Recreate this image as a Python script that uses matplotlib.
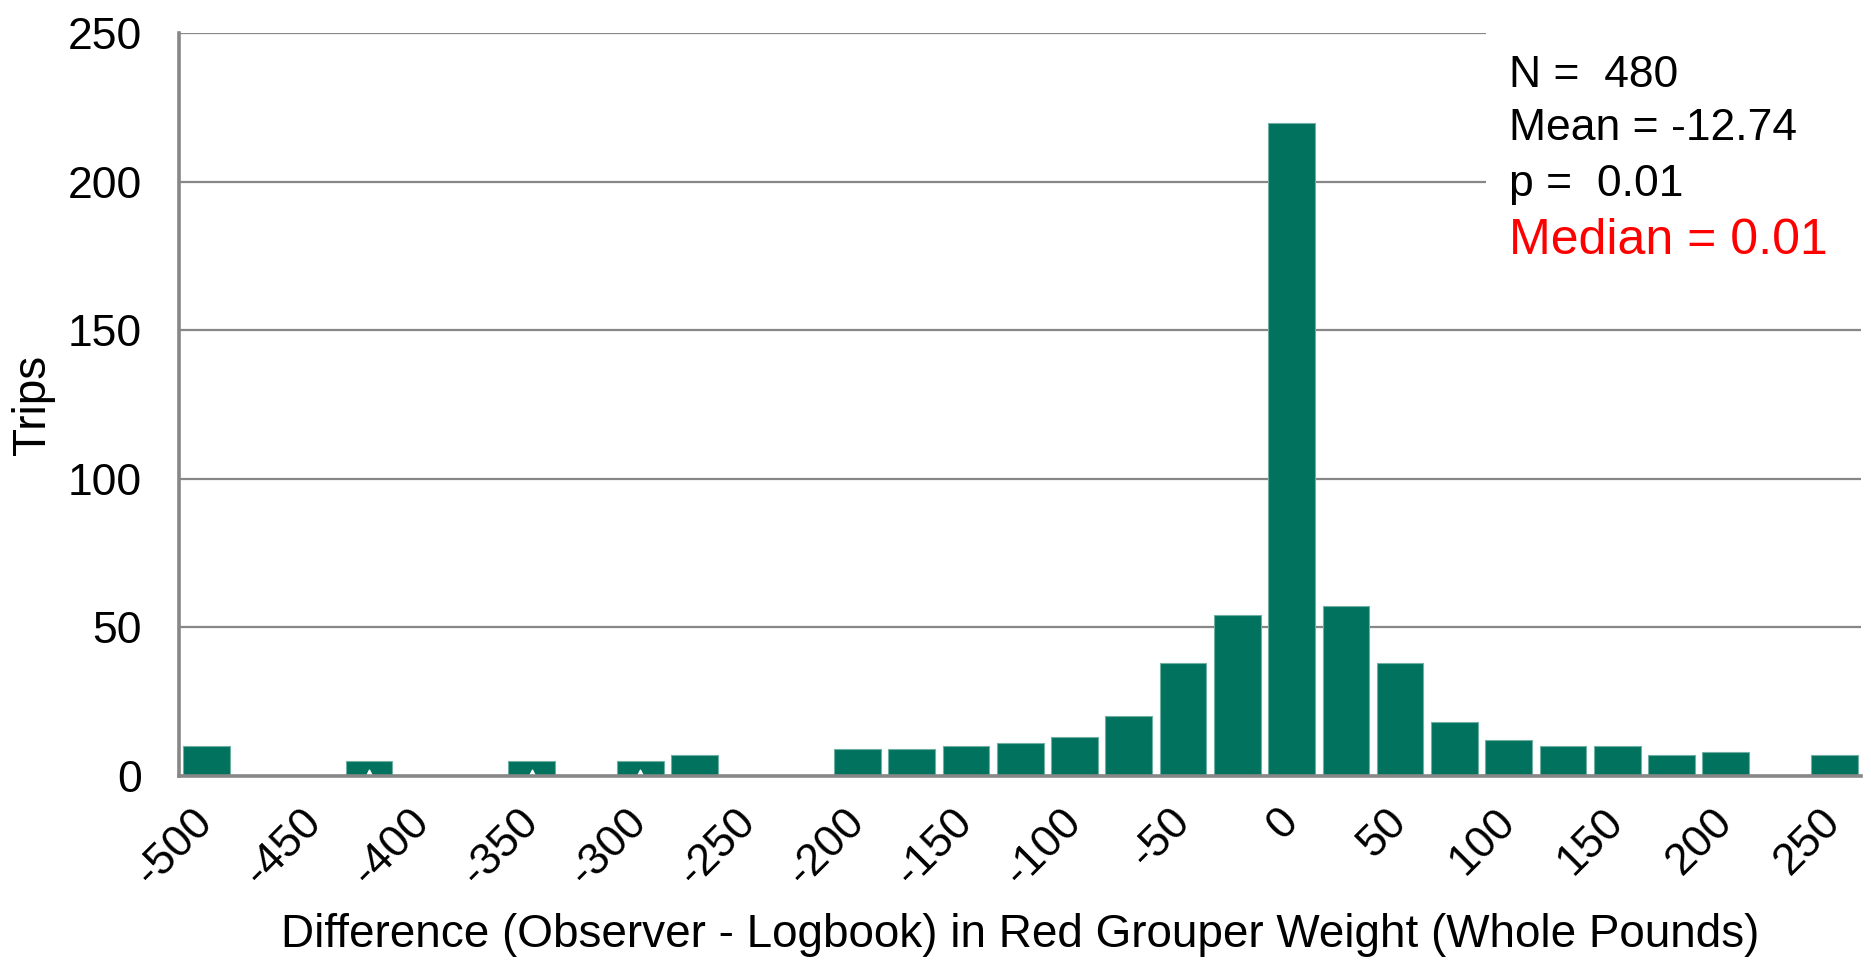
import matplotlib
matplotlib.use("Agg")
import matplotlib.pyplot as plt
from matplotlib.patches import Rectangle
import numpy as np

plt.rcParams["font.family"] = ["Liberation Sans", "DejaVu Sans"]

# difference bins (lbs), every 25
bins = list(range(-500, 251, 25))
trips = [10, 0, 0, 5, 0, 0, 5, 0, 5, 7, 0, 0, 9, 9, 10, 11, 13, 20, 38, 54,
         220, 57, 38, 18, 12, 10, 10, 7, 8, 0, 7]
tick_labels = [str(b) for b in bins[::2]]
marked_bins = [-425, -350, -300]   # small white markers at bar foot
stats_lines = ["N =  480", "Mean = -12.74", "p =  0.01"]
median_line = "Median = 0.01"

BAR = "#00725e"
GRID = "#878787"

fig = plt.figure(figsize=(18.71, 9.64), dpi=100)
ax = fig.add_axes([0.0957, 0.1955, 0.8992, 0.7698])

x = np.arange(len(bins))
ax.bar(x, trips, width=0.86, color=BAR, edgecolor="#6fb0a2", linewidth=0.8, zorder=3)
mx = [bins.index(b) for b in marked_bins]
ax.scatter(mx, [0.6] * len(mx), marker="^", s=40, color="white", zorder=4, clip_on=False)

ax.set_xlim(-0.5, len(bins) - 0.5)
ax.set_ylim(0, 250)
ax.set_yticks(range(0, 251, 50))
ax.yaxis.grid(True, color=GRID, linewidth=1.6, zorder=1)
ax.set_axisbelow(True)

ax.set_xticks(x[::2])
ax.set_xticklabels(tick_labels, rotation=45, ha="right", va="center",
                   rotation_mode="anchor", fontsize=32)
ax.tick_params(axis="x", length=0, pad=29)
ax.tick_params(axis="y", length=0, pad=27, labelsize=32)

for s in ["top", "right"]:
    ax.spines[s].set_visible(False)
for s in ["left", "bottom"]:
    ax.spines[s].set_color(GRID)
    ax.spines[s].set_linewidth(2.6)
    ax.spines[s].set_zorder(5)

ax.set_ylabel("Trips", fontsize=33, labelpad=9)
ax.set_xlabel("Difference (Observer - Logbook) in Red Grouper Weight (Whole Pounds)",
              fontsize=33, labelpad=14)

# white box behind stats text (hides grid lines)
ax.add_patch(Rectangle((0.7766, 0.68), 0.25, 0.34, transform=ax.transAxes,
                       facecolor="white", edgecolor="none", zorder=2, clip_on=False))

ys = [1 - 87 / 964, 1 - 140 / 964, 1 - 196 / 964]
for t, y in zip(stats_lines, ys):
    fig.text(0.8065, y, t, fontsize=32, va="baseline", ha="left", color="black")
fig.text(0.8065, 1 - 254 / 964, median_line, fontsize=36, va="baseline", ha="left", color="red")

fig.savefig("out.png", dpi=100)
